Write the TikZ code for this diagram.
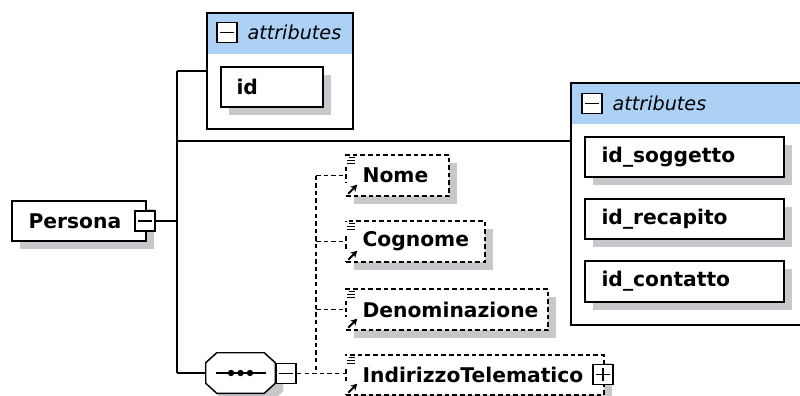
\documentclass[tikz,border=0pt]{standalone}
\usepackage{fontspec}
\setmainfont{DejaVu Sans}
\usetikzlibrary{fit,shadows,arrows.meta}
\definecolor{hdr}{RGB}{173,209,245}
\definecolor{shd}{RGB}{200,199,204}
\tikzset{
  ln/.style={line width=1.1pt},
  dl/.style={line width=1pt, dash pattern=on 3.4pt off 2.3pt},
  box/.style={draw, line width=1.1pt, fill=white, inner sep=0pt},
  shbox/.style={box, general shadow={fill=shd, shadow xshift=6pt, shadow yshift=-6pt}},
  elbox/.style={shbox, dash pattern=on 3.4pt off 2.3pt},
  hdrbox/.style={fill=hdr, draw=none, inner sep=0pt},
  lbl/.style={font=\fontsize{15.2}{18}\selectfont\bfseries, inner sep=0pt, anchor=west},
  attrtxt/.style={font=\fontsize{14.4}{16}\selectfont\itshape, inner sep=0pt, anchor=west},
  icon/.style={draw, line width=1.1pt, fill=white, minimum size=15.3pt, inner sep=0pt},
  minus/.style={icon, path picture={\draw[line width=1pt] ([xshift=2.5pt]path picture bounding box.west) -- ([xshift=-2.5pt]path picture bounding box.east);}},
  plus/.style={icon, path picture={\draw[line width=1pt] ([xshift=2.5pt]path picture bounding box.west) -- ([xshift=-2.5pt]path picture bounding box.east) ([yshift=-2.5pt]path picture bounding box.north) -- ([yshift=2.5pt]path picture bounding box.south);}},
}
\newcommand{\elicons}[1]{%
  \fill[white] ([shift={(-2,2)}]#1.north west) rectangle ([shift={(11,13)}]#1.north west);
  \draw[line width=0.8pt] ([shift={(4,3.5)}]#1.north west) -- ([shift={(10,3.5)}]#1.north west)
    ([shift={(2,6.5)}]#1.north west) -- ([shift={(10,6.5)}]#1.north west)
    ([shift={(2,9.5)}]#1.north west) -- ([shift={(10,9.5)}]#1.north west);
  \fill[white] ([shift={(-2,-2)}]#1.south west) rectangle ([shift={(12,-14)}]#1.south west);
  \draw[line width=1.4pt, -{Stealth[length=5pt,width=5.5pt]}] ([shift={(3,-3)}]#1.south west) -- ([shift={(12,-12)}]#1.south west);
}
\begin{document}
\begin{tikzpicture}[x=0.75pt,y=-0.75pt]
\clip (0,0) rectangle (800,396);
\fill[white] (0,0) rectangle (800,396);

% Persona
\node[shbox, fit={(12,201) (146,241)}] (persona) {};
\node[lbl] (personaT) at ([xshift=12.75pt]persona.west) {Persona};

% attributes of Persona
\node[box, fit={(207,13) (353,129)}] (att1) {};
\node[hdrbox, fit={(208,14) (352,54)}] (h1) {};
\node[minus] (m1) at (227,32.5) {};
\node[attrtxt] (a1T) at ([xshift=7pt]m1.east) {attributes};
\node[shbox, fit={(221,67) (323,107)}] (idb) {};
\node[lbl] (idT) at ([xshift=12pt]idb.west) {id};

% second attributes group
\node[box, fit={(571,83) (812,325)}] (att2) {};
\node[hdrbox, fit={(572,84) (811,124)}] (h2) {};
\node[minus] (m2) at (592,103.5) {};
\node[attrtxt] (a2T) at ([xshift=7pt]m2.east) {attributes};
\node[shbox, fit={(585,137) (784,177)}] (sog) {};
\node[lbl] (sogT) at ([xshift=12.75pt]sog.west) {id\_soggetto};
\node[shbox, fit={(585,199) (784,239)}] (rec) {};
\node[lbl] (recT) at ([xshift=12.75pt]rec.west) {id\_recapito};
\node[shbox, fit={(585,261) (784,302)}] (con) {};
\node[lbl] (conT) at ([xshift=12.75pt]con.west) {id\_contatto};

% sequence compositor
\node[inner sep=0pt, fit={(206,353) (275,393)}] (seq) {};
\draw[ln, fill=white, general shadow={fill=shd, shadow xshift=6pt, shadow yshift=-6pt}]
  ([xshift=8.25pt]seq.north west) -- ([xshift=-8.25pt]seq.north east)
  -- ([yshift=-7.5pt]seq.north east) -- ([yshift=7.5pt]seq.south east)
  -- ([xshift=-8.25pt]seq.south east) -- ([xshift=8.25pt]seq.south west)
  -- ([yshift=7.5pt]seq.south west) -- ([yshift=-7.5pt]seq.north west) -- cycle;
\draw[line width=1pt] ([xshift=-18.75pt]seq.center) -- ([xshift=18.75pt]seq.center);
\fill ([xshift=-7.1pt]seq.center) circle (2.4pt);
\fill (seq.center) circle (2.4pt);
\fill ([xshift=7.1pt]seq.center) circle (2.4pt);
\node[minus] (seqm) at (286,373.5) {};

% elements
\node[elbox, fit={(346,155) (449,196)}] (nome) {};
\node[lbl] (nomeT) at ([xshift=12.75pt]nome.west) {Nome};
\node[elbox, fit={(346,221) (485,262)}] (cog) {};
\node[lbl] (cogT) at ([xshift=12.75pt]cog.west) {Cognome};
\node[elbox, fit={(346,289) (548,330)}] (den) {};
\node[lbl] (denT) at ([xshift=12.75pt]den.west) {Denominazione};
\node[elbox, fit={(346,355) (604,395)}] (ind) {};
\node[lbl] (indT) at ([xshift=12.75pt]ind.west) {IndirizzoTelematico};
\node[plus] (indp) at (603,374.5) {};
\elicons{nome}
\elicons{cog}
\elicons{den}
\elicons{ind}

% Persona minus box
\node[minus] (pm) at (145,221) {};

% solid connectors
\coordinate (trunk) at (177,141);
\draw[ln] (pm.east) -- (pm.east -| trunk);
\draw[ln] (att1.west -| trunk) -- (seq.west -| trunk);
\draw[ln] (att1.west -| trunk) -- (att1.west);
\draw[ln] (trunk) -- (trunk -| att2.west);
\draw[ln] (seq.west -| trunk) -- (seq.west);

% dashed connectors
\coordinate (bus) at (316,0);
\draw[dl] (seqm.east) -- (seqm.east -| ind.west);
\draw[dl] (nome.west -| bus) -- (seqm.east -| bus);
\draw[dl] (nome.west -| bus) -- (nome.west);
\draw[dl] (cog.west -| bus) -- (cog.west);
\draw[dl] (den.west -| bus) -- (den.west);
\end{tikzpicture}
\end{document}
